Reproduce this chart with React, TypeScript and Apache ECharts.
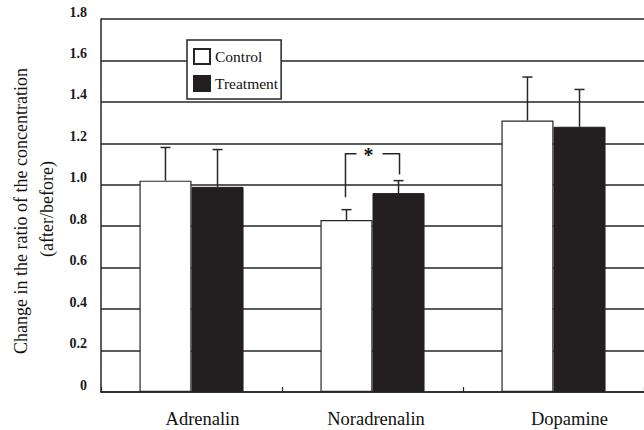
import React, { useEffect, useRef } from "react";
import * as echarts from "echarts";

const categories = ["Adrenalin", "Noradrenalin", "Dopamine"];
const controlValues = [1.02, 0.83, 1.31];
const controlErrorTops = [1.18, 0.88, 1.52];
const treatmentValues = [0.99, 0.96, 1.28];
const treatmentErrorTops = [1.17, 1.02, 1.46];
// significance bracket on Noradrenalin: [category index, bracket top, left end, right end]
const bracket = [[1, 1.15, 0.94, 1.05]];
const yTicks = { min: 0, max: 1.8, interval: 0.2 };

const SERIF = '"Liberation Serif", "Times New Roman", serif';
const INK = "#262626";
const BAR_SHARE = 0.2875; // bar width as a fraction of the category band

function errorSeries(name: string, values: number[], tops: number[], side: number) {
  return {
    type: "custom",
    name,
    z: 5,
    silent: true,
    data: values.map((v, i) => [i, v, tops[i]]),
    encode: { x: 0, y: 2 },
    renderItem: (params: any, api: any) => {
      const idx = api.value(0);
      const catW = api.size([1, 0])[0];
      const off = (side * catW * BAR_SHARE) / 2;
      const base = api.coord([idx, api.value(1)]);
      const top = api.coord([idx, api.value(2)]);
      const x = base[0] + off;
      const style = { stroke: INK, lineWidth: 1.5 };
      return {
        type: "group",
        children: [
          { type: "line", shape: { x1: x, y1: base[1], x2: x, y2: top[1] }, style },
          { type: "line", shape: { x1: x - 5, y1: top[1], x2: x + 5, y2: top[1] }, style },
        ],
      };
    },
  };
}

export default function App() {
  const ref = useRef<HTMLDivElement>(null);

  useEffect(() => {
    if (!ref.current) return;
    const chart = echarts.init(ref.current, null, { renderer: "svg" });

    // nudges the category names a little to the right of their band centres
    const labelShift = [22, 7, 32];

    chart.setOption({
      animation: false,
      backgroundColor: "#ffffff",
      textStyle: { fontFamily: SERIF },
      grid: { left: 101, top: 19, width: 548, height: 373 },
      legend: {
        data: ["Control", "Treatment"],
        orient: "vertical",
        left: 187,
        top: 40,
        padding: [8, 3, 7, 6],
        itemGap: 10,
        itemWidth: 16,
        itemHeight: 15,
        icon: "rect",
        backgroundColor: "#ffffff",
        borderColor: INK,
        borderWidth: 1.5,
        borderRadius: 0,
        textStyle: { fontFamily: SERIF, fontSize: 15.5, color: "#111" },
      },
      xAxis: {
        type: "category",
        data: categories.map((c, i) => ({
          value: c,
          textStyle: { padding: [0, 0, 0, labelShift[i]] },
        })),
        axisLine: { lineStyle: { color: INK, width: 1.5 } },
        axisTick: { show: true, inside: true, length: 5, lineStyle: { color: INK, width: 1.2 } },
        axisLabel: { fontFamily: SERIF, fontSize: 18.5, color: "#111", margin: 17 },
        splitLine: { show: false },
      },
      yAxis: {
        type: "value",
        min: yTicks.min,
        max: yTicks.max,
        interval: yTicks.interval,
        axisLine: { show: true, lineStyle: { color: INK, width: 1.5 } },
        axisTick: { show: false },
        splitLine: { show: true, lineStyle: { color: INK, width: 1.5 } },
        axisLabel: {
          fontFamily: SERIF,
          fontSize: 14,
          fontWeight: "bold",
          color: "#1a1a1a",
          margin: 14,
          verticalAlign: "bottom",
          lineHeight: 14,
          formatter: (v: number) => (v === 0 ? "0" : v.toFixed(1)),
        },
      },
      graphic: [
        {
          type: "text",
          x: 21,
          y: 211,
          rotation: Math.PI / 2,
          style: {
            text: "Change in the ratio of the concentration",
            fontFamily: SERIF,
            fontSize: 18,
            fill: "#111",
            align: "center",
            verticalAlign: "middle",
          },
        },
        {
          type: "text",
          x: 47,
          y: 209,
          rotation: Math.PI / 2,
          style: {
            text: "(after/before)",
            fontFamily: SERIF,
            fontSize: 18,
            fill: "#111",
            align: "center",
            verticalAlign: "middle",
          },
        },
      ],
      series: [
        {
          type: "bar",
          name: "Control",
          data: controlValues,
          barGap: "0%",
          barCategoryGap: "42.5%",
          itemStyle: { color: "#ffffff", borderColor: INK, borderWidth: 1.2 },
          z: 3,
        },
        {
          type: "bar",
          name: "Treatment",
          data: treatmentValues,
          barGap: "0%",
          barCategoryGap: "42.5%",
          itemStyle: { color: "#231f20", borderColor: "#231f20", borderWidth: 1 },
          z: 3,
        },
        errorSeries("ControlError", controlValues, controlErrorTops, -1),
        errorSeries("TreatmentError", treatmentValues, treatmentErrorTops, 1),
        {
          type: "custom",
          name: "Significance",
          z: 6,
          silent: true,
          data: bracket,
          encode: { x: 0, y: 1 },
          renderItem: (params: any, api: any) => {
            const idx = api.value(0);
            const catW = api.size([1, 0])[0];
            const half = (catW * BAR_SHARE) / 2;
            const top = api.coord([idx, api.value(1)]);
            const leftEnd = api.coord([idx, api.value(2)]);
            const rightEnd = api.coord([idx, api.value(3)]);
            const lx = top[0] - half - 1;
            const rx = top[0] + half + 1;
            const style = { stroke: INK, lineWidth: 1.5, fill: null };
            return {
              type: "group",
              children: [
                {
                  type: "polyline",
                  shape: { points: [[lx, leftEnd[1]], [lx, top[1]], [lx + 11, top[1]]] },
                  style,
                },
                {
                  type: "polyline",
                  shape: { points: [[rx - 17, top[1]], [rx, top[1]], [rx, rightEnd[1]]] },
                  style,
                },
                {
                  type: "text",
                  x: top[0] - 4,
                  y: top[1] + 1,
                  style: {
                    text: "*",
                    fontFamily: SERIF,
                    fontSize: 20,
                    fontWeight: "bold",
                    fill: "#111",
                    align: "center",
                    verticalAlign: "middle",
                  },
                },
              ],
            };
          },
        },
      ],
    });

    return () => chart.dispose();
  }, []);

  return <div ref={ref} style={{ width: 644, height: 430, position: "absolute", left: 0, top: 0 }} />;
}
